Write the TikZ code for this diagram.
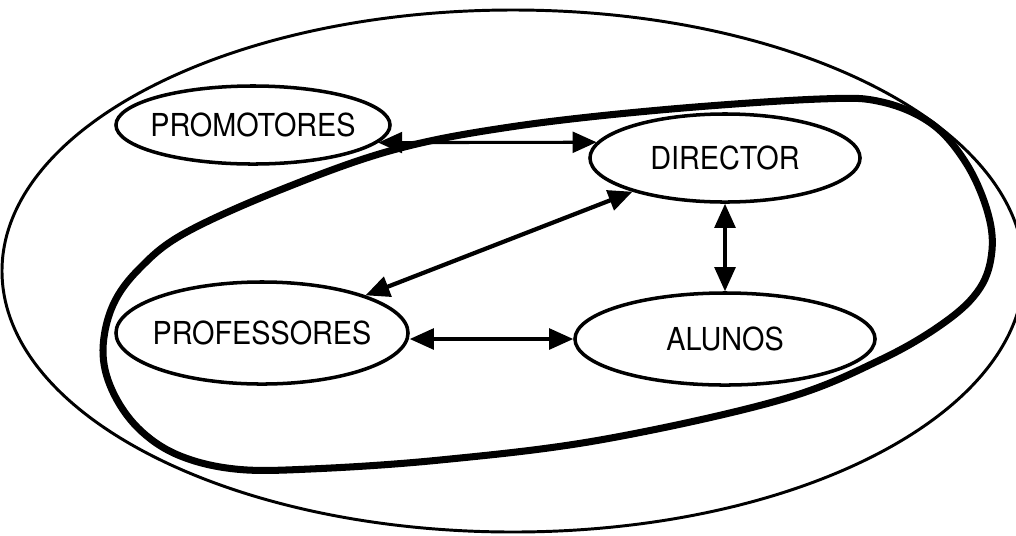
\documentclass[tikz,border=0pt]{standalone}
\usepackage{fontspec}
\setmainfont[FakeStretch=0.91]{TeX Gyre Heros}
\usetikzlibrary{shapes.geometric,arrows.meta}
\begin{document}
\begin{tikzpicture}[x=0.025cm,y=-0.025cm,
  box/.style={draw, ellipse, line width=2.5pt, inner sep=0pt,
    font=\fontsize{22.5}{27}\selectfont},
  link/.style={line width=2.2pt,
    {Triangle[length=0.6cm,width=0.52cm]}-{Triangle[length=0.6cm,width=0.52cm]}},
  outer/.style={line width=2.1pt},
  group/.style={line width=5pt, line join=round}
]
\useasboundingbox (0,0) rectangle (1016,535);
% outer ellipse
\draw[outer] (513,271) ellipse [x radius=511, y radius=261];
% thick inner closed curve
\draw[group] plot[smooth cycle, tension=0.6] coordinates {
  (820,99) (882,102) (932,124) (966,163) (987,210) (992,250) (980,288)
  (945,322) (880,360) (780,400) (600,440) (440,460) (310,469) (235,469)
  (178,455) (138,428) (112,390) (103,350) (113,305) (140,268) (185,233)
  (280,190) (393,150) (510,127) (660,110)};
% nodes
\node[box, minimum width=6.85cm, minimum height=1.95cm] (promo) at (253,125) {\makebox[0pt]{PROMOTORES}};
\node[box, minimum width=6.75cm, minimum height=2.2cm] (dir) at (725,158) {\makebox[0pt]{DIRECTOR}};
\node[box, minimum width=7.5cm, minimum height=2.3cm] (alu) at (725,339) {\makebox[0pt]{ALUNOS}};
\node[box, minimum width=7.3cm, minimum height=2.55cm] (prof) at (262,333) {\makebox[0pt]{PROFESSORES}};
% connectors
\draw[link] (promo.-8) -- (dir.173);
\draw[link] (dir.south) -- (alu.north);
\draw[link, line width=3pt] (prof.20.6) -- (dir.200);
\draw[link] (prof.east |- alu.west) -- (alu.west);
\end{tikzpicture}
\end{document}
